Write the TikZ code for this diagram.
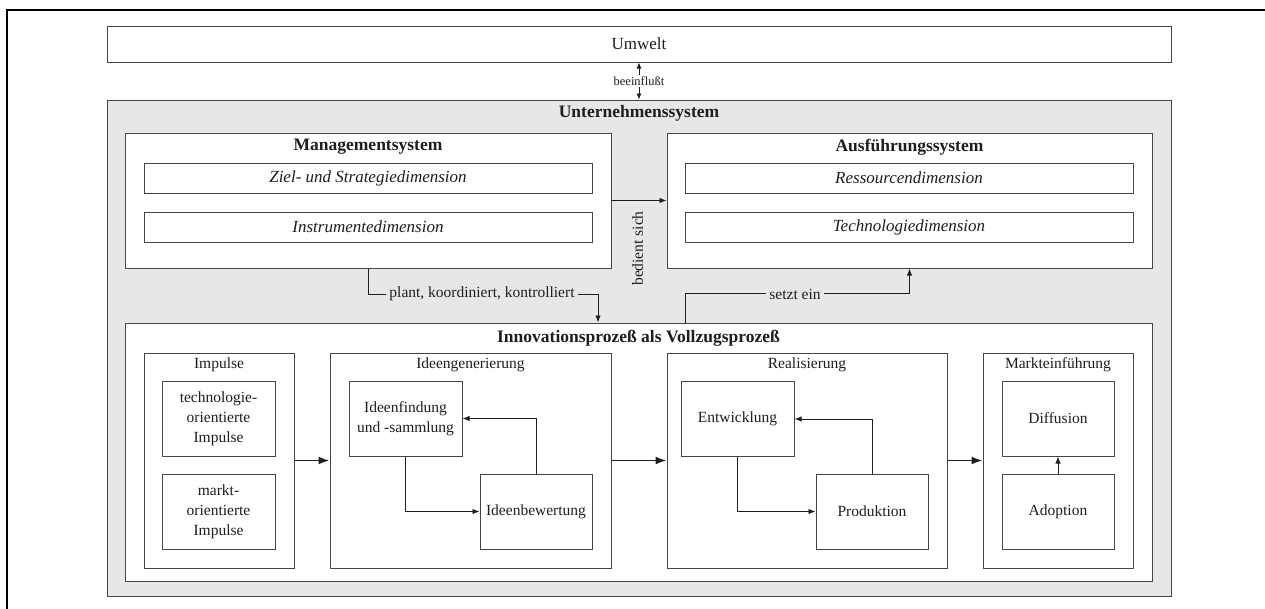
\documentclass[tikz,border=0pt]{standalone}
\usepackage{fontspec}
\setmainfont{Liberation Serif}
\usetikzlibrary{arrows.meta}
\definecolor{sysgray}{HTML}{E6E7E6}
\definecolor{edge}{HTML}{454545}
\definecolor{ink}{HTML}{1E1E1E}
\newcommand{\fsz}[2]{\fontsize{#1}{#2}\selectfont}
\tikzset{
  box/.style={draw=edge, line width=1pt, fill=white, inner sep=0pt, align=center, text=ink},
  grp/.style={box},
  title/.style={inner sep=0pt, text=ink, font=\fsz{17.5}{21}\bfseries},
  dimtext/.style={font=\fsz{17}{20}\itshape},
  small/.style={font=\fsz{15.5}{20}},
  conn/.style={draw=ink, line width=0.9pt, -{Latex[length=7pt,width=5.5pt]}},
  flow/.style={draw=ink, line width=1.8pt, -{Latex[length=11pt,width=8pt]}},
  lbl/.style={inner sep=3pt, text=ink, font=\fsz{15.5}{18}},
}
\begin{document}
\begin{tikzpicture}[x=1pt,y=-1pt]
\useasboundingbox (0,0) rectangle (1265,608);
% page frame (only left and top edges fall inside the page)
\draw[line width=2.5pt, black] (7,620) -- (7,10) -- (1280,10);

% environment
\node[box, minimum width=1064, minimum height=36, font=\fsz{17}{20}] (umwelt) at (639,44) {Umwelt};

% company system
\node[box, fill=sysgray, minimum width=1064, minimum height=496] (unt) at (639,348) {};
\node[title] (untT) at (639,113) {Unternehmenssystem};

% management system
\node[box, minimum width=486, minimum height=135] (mgmt) at (368,200.5) {};
\node[title] (mgmtT) at (368,147) {Managementsystem};
\node[box, dimtext, minimum width=448, minimum height=30] (ziel) at (368,178) {Ziel- und Strategiedimension};
\node[box, dimtext, minimum width=448, minimum height=30] (instr) at (368,227) {Instrumentedimension};

% execution system
\node[box, minimum width=485, minimum height=135] (ausf) at (909.5,200.5) {};
\node[title] (ausfT) at (909.5,147) {Ausführungssystem};
\node[box, dimtext, minimum width=448, minimum height=30] (res) at (909,178) {Ressourcendimension};
\node[box, dimtext, minimum width=448, minimum height=30] (tech) at (909,227) {Technologiedimension};

% innovation process
\node[box, minimum width=1027, minimum height=258] (innov) at (638.5,452) {};
\node[title] (innovT) at (638.5,338) {Innovationsprozeß als Vollzugsprozeß};

% phase groups
\node[grp, minimum width=150, minimum height=215] (impG) at (219,460.5) {};
\node[small, inner sep=0pt, text=ink] (impT) at (219,365) {Impulse};
\node[box, small, minimum width=113, minimum height=75] (techImp) at (218.5,418.5) {technologie-\\orientierte\\Impulse};
\node[box, small, minimum width=113, minimum height=75] (marktImp) at (218.5,511.5) {markt-\\orientierte\\Impulse};

\node[grp, minimum width=281, minimum height=215] (ideG) at (470.5,460.5) {};
\node[small, inner sep=0pt, text=ink] (ideT) at (470.5,365) {Ideengenerierung};
\node[box, small, minimum width=113, minimum height=75] (find) at (405.5,418.5) {Ideenfindung\\und -sammlung};
\node[box, small, minimum width=112, minimum height=75] (bew) at (536,511.5) {Ideenbewertung};

\node[grp, minimum width=280, minimum height=215] (realG) at (807,460.5) {};
\node[small, inner sep=0pt, text=ink] (realT) at (807,365) {Realisierung};
\node[box, small, minimum width=113, minimum height=75] (entw) at (737.5,419) {Entwicklung};
\node[box, small, minimum width=112, minimum height=75] (prod) at (872,511.5) {Produktion};

\node[grp, minimum width=150, minimum height=215] (mktG) at (1058,460.5) {};
\node[small, inner sep=0pt, text=ink] (mktT) at (1058,365) {Markteinführung};
\node[box, small, minimum width=112, minimum height=75] (diff) at (1058,418.5) {Diffusion};
\node[box, small, minimum width=112, minimum height=75] (adop) at (1058,511.5) {Adoption};

% relations between the systems
\draw[draw=ink, line width=0.9pt, {Latex[length=6pt,width=5pt]}-{Latex[length=6pt,width=5pt]}]
  (umwelt.south) -- node[fill=white, inner sep=1.5pt, text=ink, font=\fsz{12.5}{14}] (beeinT) {beeinflußt} (unt.north);
\draw[conn] (mgmt.east) -- (ausf.west);
\node[rotate=90, inner sep=0pt, text=ink, font=\fsz{15.5}{18}] (bedT) at (637.5,248.5) {bedient sich};
\coordinate (plantIn) at ([xshift=-40.5pt]innov.north);
\draw[conn] (mgmt.south) -- ++(0,26) -| (plantIn);
\node[lbl, fill=sysgray] (plantT) at (482,294) {plant, koordiniert, kontrolliert};
\coordinate (setztOut) at ([xshift=46.5pt]innov.north);
\draw[conn] (setztOut) -- ++(0,-29) -| (ausf.south);
\node[lbl, fill=sysgray] (setztT) at (795,294) {setzt ein};

% process flow
\draw[flow] (impG.east) -- (ideG.west);
\draw[flow] (ideG.east) -- (realG.west);
\draw[flow] (realG.east) -- (mktG.west);

% loops inside the phases
\draw[conn] (find.south) |- (bew.west);
\draw[conn] (bew.north) |- (find.east);
\draw[conn] (entw.south) |- (prod.west);
\draw[conn] (prod.north) |- (entw.east);
\draw[conn] (adop.north) -- (diff.south);
\end{tikzpicture}
\end{document}
